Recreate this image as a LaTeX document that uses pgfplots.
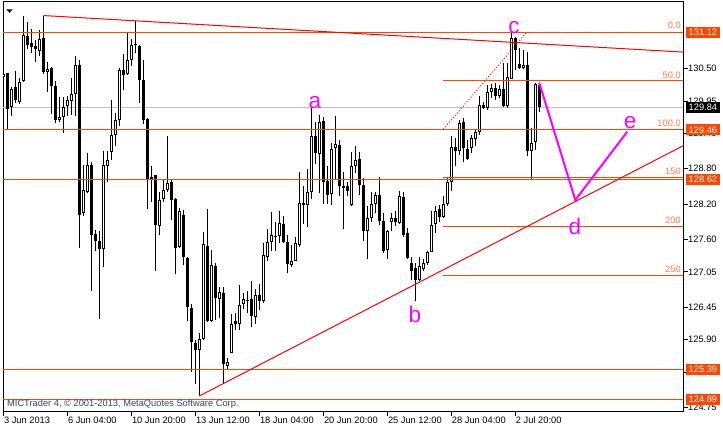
\documentclass[border=0pt]{standalone}
\usepackage{pgfplots}
\pgfplotsset{compat=1.18}
\usepackage{pgfplotstable}
\usepackage{fontspec}
\setmainfont{Liberation Sans}
\definecolor{lvl}{RGB}{255,69,0}
\definecolor{fibtext}{RGB}{255,120,70}
\definecolor{mag}{RGB}{255,0,255}
\definecolor{bidgrey}{RGB}{192,192,192}
\definecolor{copyc}{RGB}{45,70,120}
\newcommand{\tf}{\fontsize{9.3}{11}\selectfont}
\newcommand{\lf}{\fontsize{22.5}{24}\selectfont}

\pgfplotstableread{
x o h l c
0 130.35 130.76 130.22 130.41
2 129.85 130.19 129.69 130.15
4 129.94 130.34 129.90 130.28
5 130.29 131.40 130.28 131.07
9 130.80 131.16 130.72 131.00
11 130.45 130.62 130.10 130.50
14 129.62 130.02 129.60 129.68
15 129.68 130.02 129.40 129.85
16 129.86 130.03 129.69 129.96
17 129.95 130.34 129.72 130.07
18 130.07 130.71 129.69 130.56
20 128.05 128.87 128.00 128.44
21 128.40 129.07 128.39 128.87
25 127.44 129.11 127.13 128.87
26 128.85 129.11 128.57 128.95
27 129.09 129.97 128.95 129.38
28 129.37 129.74 129.18 129.63
29 129.62 130.51 129.52 130.48
31 130.40 131.10 130.39 130.65
32 130.65 131.01 130.55 130.90
33 130.90 131.31 130.76 130.92
39 127.83 128.41 127.67 128.27
40 128.28 128.61 128.24 128.44
41 128.44 129.35 128.41 128.56
44 127.47 128.13 127.45 128.09
49 125.72 126.01 124.95 125.91
50 125.91 127.72 125.90 127.52
52 126.21 127.42 126.20 127.17
54 126.59 126.79 126.26 126.71
56 125.46 125.59 125.40 125.52
57 125.68 126.33 125.67 126.17
59 126.16 126.83 126.07 126.49
60 126.50 126.70 126.42 126.59
63 126.29 126.76 126.17 126.66
65 126.55 127.54 126.52 127.33
66 127.31 127.78 127.24 127.55
67 127.55 128.07 127.41 127.67
69 127.66 128.09 127.54 127.88
72 127.17 127.51 127.14 127.23
73 127.24 127.65 127.23 127.54
74 127.51 128.74 127.48 128.22
76 128.18 128.80 127.81 128.40
77 128.40 129.85 128.28 129.36
79 129.05 129.72 128.39 129.60
82 128.37 129.24 128.19 129.13
83 129.15 129.69 128.61 129.22
87 128.18 129.08 128.16 128.85
88 128.85 129.18 128.73 128.95
91 127.74 128.16 127.27 127.96
92 127.96 128.40 127.89 128.20
93 128.20 128.41 128.05 128.35
96 127.42 127.76 127.27 127.74
97 127.89 128.05 127.74 127.96
99 127.88 128.43 127.87 128.33
104 126.91 127.30 126.89 127.15
105 127.10 127.27 127.06 127.20
106 127.20 127.41 127.17 127.38
107 127.38 128.09 127.38 127.85
108 127.87 128.16 127.71 128.09
110 127.98 128.33 127.96 128.20
111 128.20 128.64 128.17 128.57
112 128.57 129.35 128.43 129.17
114 129.10 129.63 129.04 129.57
117 129.15 129.38 129.06 129.32
118 129.30 129.45 129.19 129.42
119 129.43 130.03 129.38 129.89
121 129.83 130.22 129.80 130.11
122 130.11 130.24 130.00 130.17
124 130.03 130.22 130.00 130.16
126 129.87 130.59 129.83 130.35
127 130.33 131.10 130.33 131.02
130 130.51 130.82 130.49 130.56
132 129.11 129.49 128.61 129.24
133 129.25 130.25 129.12 130.24
}\bull

\pgfplotstableread{
x o h l c
1 130.43 130.43 129.48 129.82
3 130.19 130.46 129.91 129.96
6 131.06 131.29 130.83 130.90
7 130.93 131.18 130.76 130.86
8 130.88 130.99 130.62 130.84
10 131.02 131.40 130.41 130.45
12 130.51 130.52 129.73 130.21
13 130.21 130.29 129.57 129.62
19 130.56 130.65 127.45 128.02
22 128.87 128.91 126.73 127.68
23 127.70 127.76 127.40 127.58
24 127.58 127.75 126.25 127.44
30 130.48 130.75 130.13 130.39
34 130.89 130.90 129.91 130.30
35 130.31 130.64 129.56 129.62
36 129.65 129.66 128.11 128.63
37 128.66 128.84 128.24 128.63
38 128.69 128.70 127.06 127.84
42 128.57 128.63 127.93 128.27
43 128.29 128.30 127.01 127.45
45 128.02 128.10 127.17 127.30
46 127.29 127.30 126.21 126.45
47 126.43 126.51 125.35 125.86
48 125.85 125.90 125.15 125.73
51 127.49 128.12 126.20 126.21
53 127.15 127.20 126.24 126.60
55 126.69 126.79 125.15 125.48
58 126.21 126.35 126.07 126.17
61 126.57 126.73 126.35 126.56
62 126.59 126.90 126.11 126.30
64 126.66 126.85 126.40 126.55
68 127.66 127.90 127.41 127.64
70 127.87 128.00 127.54 127.55
71 127.55 127.68 127.04 127.18
75 128.22 128.50 127.87 128.18
78 129.36 129.59 128.88 129.07
80 129.61 129.68 128.21 128.58
81 128.60 128.84 128.21 128.35
84 129.21 129.29 128.33 128.50
85 128.51 128.75 127.78 128.48
86 128.50 128.58 128.33 128.43
89 128.96 129.09 128.36 128.53
90 128.53 128.64 127.57 127.74
94 128.35 128.66 127.84 127.91
95 127.91 128.05 127.37 127.41
98 127.96 128.09 127.83 127.89
100 128.32 128.40 127.65 127.68
101 127.71 127.79 127.27 127.28
102 127.20 127.31 126.91 127.07
103 127.12 127.20 126.55 126.91
109 128.11 128.19 127.89 127.98
113 129.17 129.32 128.84 129.11
115 129.59 129.66 128.91 129.15
116 129.13 129.29 128.95 128.96
120 129.89 129.94 129.81 129.83
123 130.17 130.25 129.97 130.04
125 130.16 130.59 129.85 129.87
128 131.02 131.03 130.47 130.82
129 130.58 130.85 130.49 130.51
131 130.56 130.79 129.02 129.11
134 130.23 130.24 129.77 129.84
}\bear

\begin{document}
\begin{tikzpicture}
\begin{axis}[
  scale only axis, width=680pt, height=409pt,
  xmin=-0.08, xmax=169.93, ymin=124.69, ymax=131.63,
  enlargelimits=false,
  axis line style={black, line width=1pt},
  tick align=outside, major tick length=4.5pt,
  every tick/.style={black, line width=1pt},
  xtick pos=left, ytick pos=right, yticklabel pos=right,
  xtick={0,16,32,48,64,80,96,112,128},
  xticklabels={3 Jun 2013, 6 Jun 04:00, 10 Jun 20:00, 13 Jun 12:00, 18 Jun 04:00, 20 Jun 20:00, 25 Jun 12:00, 28 Jun 04:00, 2 Jul 20:00},
  ytick={124.75,125.35,125.90,126.45,127.05,127.60,128.20,128.80,129.40,129.95,130.50},
  yticklabels={124.75,125.35,125.90,126.45,127.05,127.60,128.20,128.80,129.40,129.95,130.50},
  tick label style={font=\tf, black},
  xticklabel style={anchor=north west, inner sep=0pt, xshift=0.5pt, yshift=-1pt},
  yticklabel style={anchor=west, inner sep=0pt, xshift=0.5pt},
  clip=true,
  candle/.style={draw=none, mark=none, forget plot, error bars/.cd, y dir=plus, y explicit, error mark=none},
]
% bid line
\addplot[bidgrey, line width=1pt, forget plot] coordinates {(-0.08,129.84) (169.93,129.84)};
% wicks
\addplot[candle, error bar style={draw=black, line width=1pt}]
  table[x=x, y=l, y error plus expr=\thisrow{h}-\thisrow{l}, y error minus expr=0] {\bull};
\addplot[candle, error bar style={draw=black, line width=1pt}]
  table[x=x, y=l, y error plus expr=\thisrow{h}-\thisrow{l}, y error minus expr=0] {\bear};
% bear bodies
\addplot[candle, error bar style={draw=black, line width=3.2pt}]
  table[x=x, y=c, y error plus expr={max(\thisrow{o}-\thisrow{c},0.017)}, y error minus expr=0] {\bear};
% bull bodies
\addplot[candle, error bar style={draw=black, line width=3.2pt}]
  table[x=x, y=o, y error plus expr={max(\thisrow{c}-\thisrow{o},0.017)}, y error minus expr=0] {\bull};
\addplot[candle, error bar style={draw=white, line width=1.2pt}]
  table[x=x, y expr=\thisrow{o}+0.017, y error plus expr={max(\thisrow{c}-\thisrow{o}-0.034,0)}, y error minus expr=0] {\bull};
% horizontal levels
\addplot[lvl, line width=1pt] coordinates {(-0.08,131.12) (169.93,131.12)};
\addplot[lvl, line width=1pt] coordinates {(-0.08,129.46) (169.93,129.46)};
\addplot[lvl, line width=1pt] coordinates {(-0.08,128.62) (169.93,128.62)};
\addplot[lvl, line width=1pt] coordinates {(-0.08,125.39) (169.93,125.39)};
\addplot[lvl, line width=1pt] coordinates {(-0.08,124.89) (169.93,124.89)};
% fibo levels
\addplot[lvl, line width=1pt] coordinates {(110,130.295) (169.93,130.295)};
\addplot[lvl, line width=1pt] coordinates {(110,129.47) (169.93,129.47)};
\addplot[lvl, line width=1pt] coordinates {(110,128.645) (169.93,128.645)};
\addplot[lvl, line width=1pt] coordinates {(110,127.82) (169.93,127.82)};
\addplot[lvl, line width=1pt] coordinates {(110,126.995) (169.93,126.995)};
\addplot[red, line width=1pt, dash pattern=on 1pt off 2pt] coordinates {(110,129.47) (130.9,131.12)};
% trend lines
\addplot[red, line width=1pt] coordinates {(10,131.40) (169.93,130.78)};
\addplot[red, line width=1pt] coordinates {(49,124.945) (169.93,129.19)};
% wave
\addplot[mag, line width=2pt] coordinates {(134,130.26) (143,128.27) (156,129.43)};
% fibo texts
\node[anchor=south east, inner sep=0pt, text=fibtext, font=\tf] at (axis cs:169.4,131.17) {0.0};
\node[anchor=south east, inner sep=0pt, text=fibtext, font=\tf] at (axis cs:169.4,130.33) {50.0};
\node[anchor=south east, inner sep=0pt, text=fibtext, font=\tf] at (axis cs:169.4,129.52) {100.0};
\node[anchor=south east, inner sep=0pt, text=fibtext, font=\tf] at (axis cs:169.4,128.69) {150};
\node[anchor=south east, inner sep=0pt, text=fibtext, font=\tf] at (axis cs:169.4,127.86) {200};
\node[anchor=south east, inner sep=0pt, text=fibtext, font=\tf] at (axis cs:169.4,127.04) {250};
% wave labels
\node[inner sep=0pt, text=mag, font=\lf] at (axis cs:77.9,129.925) {a};
\node[inner sep=0pt, text=mag, font=\lf] at (axis cs:102.9,126.32) {b};
\node[inner sep=0pt, text=mag, font=\lf] at (axis cs:127.7,131.19) {c};
\node[inner sep=0pt, text=mag, font=\lf] at (axis cs:142.9,127.815) {d};
\node[inner sep=0pt, text=mag, font=\lf] at (axis cs:156.7,129.585) {e};
% anchors
\coordinate (bl) at (rel axis cs:0,0);
\coordinate (tr) at (rel axis cs:1,1);
\coordinate (tl) at (rel axis cs:0,1);
\coordinate (p1) at (axis cs:169.93,131.12);
\coordinate (p2) at (axis cs:169.93,129.84);
\coordinate (p3) at (axis cs:169.93,129.46);
\coordinate (p4) at (axis cs:169.93,128.62);
\coordinate (p5) at (axis cs:169.93,125.39);
\coordinate (p6) at (axis cs:169.93,124.89);
\end{axis}
\tikzset{pbox/.style={anchor=west, inner xsep=2.5pt, inner ysep=0pt, minimum height=11pt, text=white, font=\tf, xshift=3pt}}
\node[pbox, fill=lvl] at (p1) {131.12};
\node[pbox, fill=black] at (p2) {129.84};
\node[pbox, fill=lvl] at (p3) {129.46};
\node[pbox, fill=lvl] at (p4) {128.62};
\node[pbox, fill=lvl] at (p5) {125.39};
\node[pbox, fill=lvl] at (p6) {124.89};
\node[anchor=west, inner sep=0pt, text=copyc, font=\tf] at ([xshift=4pt,yshift=7pt]bl) {MICTrader 4, © 2001-2013, MetaQuotes Software Corp.};
\fill[black] ([xshift=3.3pt,yshift=-7.3pt]tl) -- ([xshift=9.7pt,yshift=-7.3pt]tl) -- ([xshift=6.5pt,yshift=-10.8pt]tl) -- cycle;
\pgfresetboundingbox
\path[use as bounding box] ([xshift=-3pt,yshift=-18pt]bl) rectangle ([xshift=40pt,yshift=2pt]tr);
\end{tikzpicture}
\end{document}
